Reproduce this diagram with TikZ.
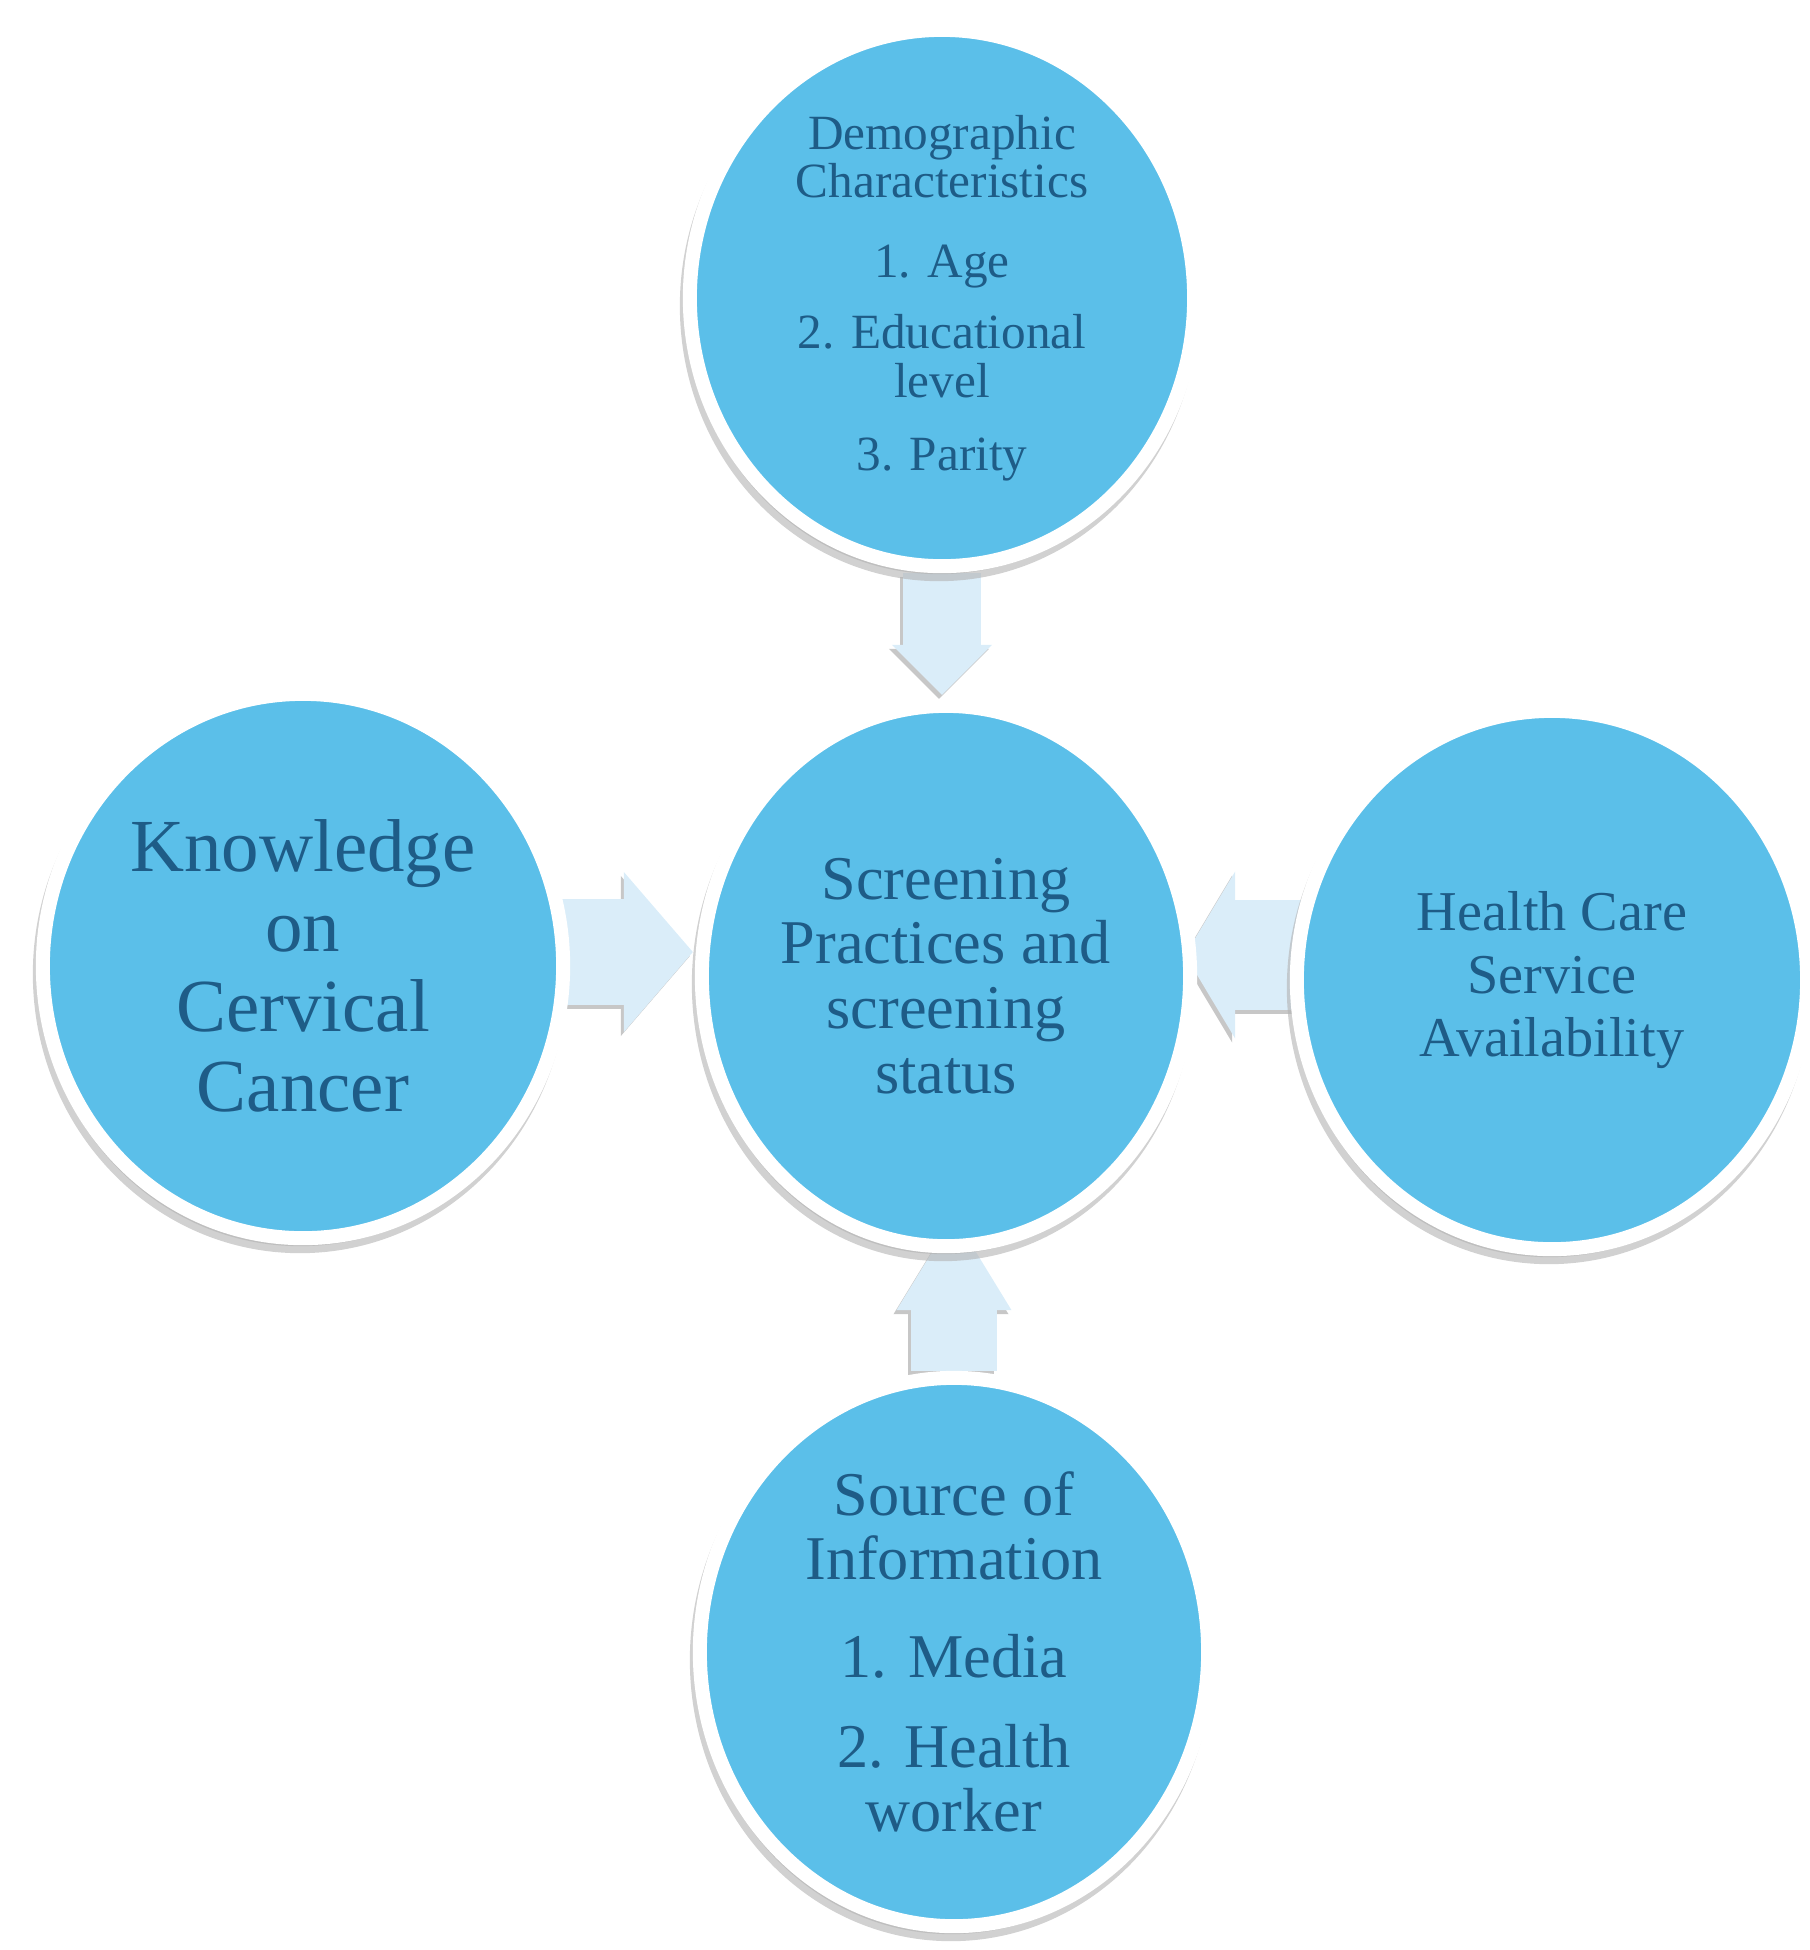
\documentclass[tikz,border=0pt]{standalone}
\usepackage{fontspec}
\setmainfont{Liberation Serif}
\usetikzlibrary{arrows.meta,backgrounds,shapes.geometric}
\definecolor{circblue}{RGB}{91,191,233}
\definecolor{txtblue}{RGB}{30,92,135}
\definecolor{arrblue}{RGB}{218,237,249}

\begin{document}
\begin{tikzpicture}[x=0.01cm,y=-0.01cm,
  bubble/.style={ellipse, fill=circblue, draw=white, line width=0.14cm, text=txtblue, align=center, inner sep=0pt,
    preaction={draw=black!30, fill=black!30, line width=0.14cm, opacity=0.6, transform canvas={xshift=-0.03cm,yshift=-0.08cm}}},
  blockarr/.style={draw=arrblue},
  arrshade/.style={draw=black!22, transform canvas={xshift=-0.03cm,yshift=-0.04cm}}]
\useasboundingbox (0,0) rectangle (1810,1950);

\node[bubble, minimum width=5.04cm, minimum height=5.36cm, font=\fontsize{14}{13.8}\selectfont] (top) at (942,298)
  {Demographic\\Characteristics\\[8.8pt]1. Age\\[6.6pt]2. Educational\\level\\[7pt]3. Parity};
\node[bubble, minimum width=4.88cm, minimum height=5.40cm, font=\fontsize{17.7}{18.4}\selectfont] (ctr) at (946,976)
  {Screening\\Practices and\\screening\\status};
\node[bubble, minimum width=5.20cm, minimum height=5.44cm, font=\fontsize{21.3}{22.7}\selectfont] (lft) at (303,966)
  {Knowledge\\on\\Cervical\\Cancer};
\node[bubble, minimum width=5.10cm, minimum height=5.38cm, font=\fontsize{16}{18}\selectfont] (rgt) at (1552,980)
  {Health Care\\Service\\Availability};
\node[bubble, minimum width=5.08cm, minimum height=5.48cm, font=\fontsize{17.7}{18.2}\selectfont] (bot) at (954,1652)
  {Source of\\Information\\[9.6pt]1. Media\\[7.4pt]2. Health\\worker};

% block arrows into the middle
\begin{pgfonlayer}{background}
\foreach \s in {arrshade,blockarr} {
  \draw[\s, line width=0.77cm, shorten >=0.04cm, -{Triangle[length=0.5cm,width=1.0cm,line width=0pt]}] (top) -- (top |- ctr.north);
  \draw[\s, line width=1.06cm, shorten >=0.02cm, -{Triangle[length=0.69cm,width=1.6cm,line width=0pt]}] ([yshift=0.24cm]ctr.west -| lft.center) -- ([yshift=0.24cm]ctr.west);
  \draw[\s, line width=1.1cm, shorten >=-0.12cm, -{Triangle[length=0.5cm,width=1.67cm,line width=0pt]}] ([yshift=0.21cm]ctr.east -| rgt.center) -- ([yshift=0.21cm]ctr.east);
  \draw[\s, line width=0.86cm, shorten >=-0.37cm, -{Triangle[length=0.94cm,width=1.15cm,line width=0pt]}] (bot) -- (bot |- ctr.south);
}
\end{pgfonlayer}
\end{tikzpicture}
\end{document}
